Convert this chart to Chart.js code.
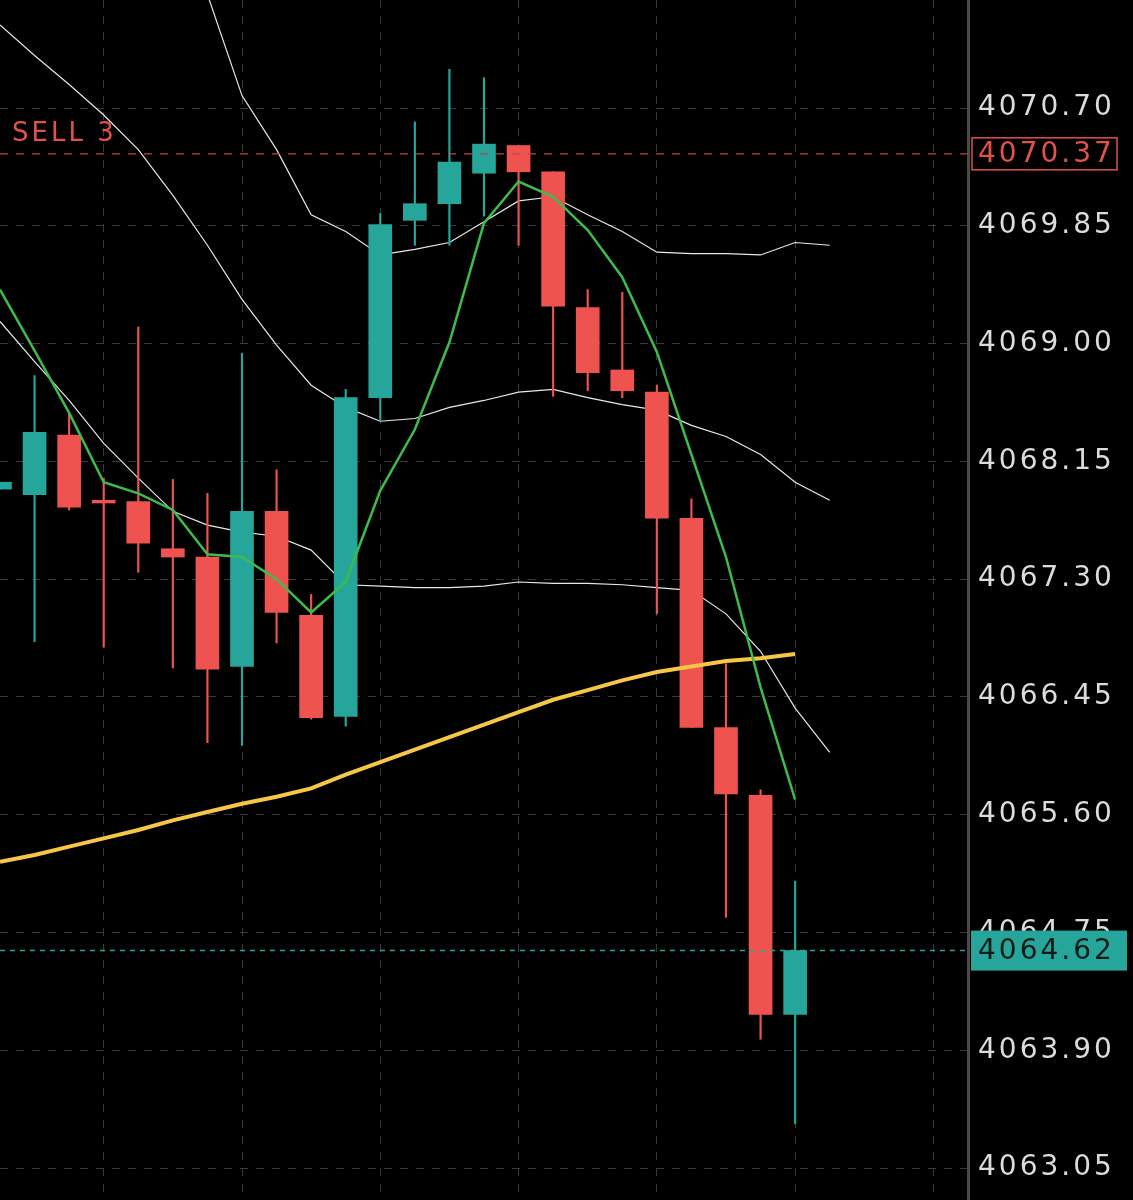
<!DOCTYPE html>
<html>
<head>
<meta charset="utf-8">
<script src="https://cdn.jsdelivr.net/npm/chart.js@4.4.0/dist/chart.umd.min.js"></script>
<style>
  html, body { margin: 0; padding: 0; background: #000; }
  #wrap { width: 1133px; height: 1200px; }
</style>
</head>
<body>
<div id="wrap"><canvas id="chart" width="1133" height="1200"></canvas></div>
<script>
// candles, index 0..23
const opens  = [4067.95, 4067.91, 4068.34, 4067.87, 4067.86, 4067.52, 4067.46, 4066.67, 4067.79, 4067.04, 4066.31, 4068.61, 4069.89, 4070.01, 4070.23, 4070.43, 4070.24, 4069.26, 4068.81, 4068.65, 4067.74, 4066.23, 4065.74, 4064.16];
const closes = [4068.00, 4068.36, 4067.82, 4067.85, 4067.56, 4067.46, 4066.65, 4067.79, 4067.06, 4066.30, 4068.61, 4069.86, 4070.01, 4070.31, 4070.44, 4070.24, 4069.27, 4068.79, 4068.66, 4067.74, 4066.23, 4065.75, 4064.16, 4064.62];
const highs  = [4068.00, 4068.77, 4068.49, 4068.03, 4069.12, 4068.02, 4067.92, 4068.93, 4068.09, 4067.19, 4068.67, 4069.94, 4070.60, 4070.98, 4070.92, 4070.43, 4070.24, 4069.39, 4069.37, 4068.70, 4067.88, 4066.69, 4065.78, 4065.12];
const lows   = [4067.95, 4066.85, 4067.80, 4066.81, 4067.35, 4066.66, 4066.12, 4066.10, 4066.84, 4066.29, 4066.24, 4068.44, 4069.71, 4069.71, 4069.92, 4069.71, 4068.62, 4068.66, 4068.61, 4067.05, 4066.23, 4064.86, 4063.98, 4063.37];

// indicator lines
const emaFast = [4069.39, 4068.95, 4068.50, 4068.00, 4067.92, 4067.80, 4067.48, 4067.46, 4067.30, 4067.06, 4067.28, 4067.94, 4068.38, 4069.01, 4069.87, 4070.17, 4070.06, 4069.82, 4069.48, 4068.94, 4068.20, 4067.46, 4066.52, 4065.71];
const bandUpper = [null, null, null, null, null, 4072.40, 4071.52, 4070.79, 4070.40, 4069.93, 4069.81, 4069.64, 4069.68, 4069.73, 4069.88, 4070.03, 4070.06, 4069.93, 4069.81, 4069.66, 4069.65, 4069.65, 4069.64, 4069.73, 4069.71];
const bandMiddle = [4071.30, 4071.08, 4070.87, 4070.65, 4070.40, 4070.07, 4069.71, 4069.32, 4068.99, 4068.70, 4068.54, 4068.44, 4068.46, 4068.54, 4068.59, 4068.65, 4068.67, 4068.61, 4068.56, 4068.52, 4068.41, 4068.33, 4068.20, 4068.00, 4067.87];
const bandLower = [4069.16, 4068.87, 4068.59, 4068.28, 4068.03, 4067.79, 4067.69, 4067.64, 4067.61, 4067.51, 4067.26, 4067.25, 4067.24, 4067.24, 4067.25, 4067.28, 4067.27, 4067.27, 4067.26, 4067.24, 4067.22, 4067.05, 4066.78, 4066.37, 4066.05];
const maSlow = [4065.26, 4065.31, 4065.37, 4065.43, 4065.49, 4065.56, 4065.62, 4065.68, 4065.73, 4065.79, 4065.89, 4065.98, 4066.07, 4066.16, 4066.25, 4066.34, 4066.43, 4066.50, 4066.57, 4066.63, 4066.67, 4066.71, 4066.73, 4066.76];

const yTicks = [4063.05, 4063.90, 4064.75, 4065.60, 4066.45, 4067.30, 4068.15, 4069.00, 4069.85, 4070.70, 4071.55];
const xGrid = [3, 7, 11, 15, 19, 23, 27];
const sellPrice = 4070.37;
const sellLabel = 'SELL 3';
const lastPrice = 4064.62;

const UP = '#26a69a', DOWN = '#ef5350';
const candleColor = opens.map((o, i) => closes[i] >= o ? UP : DOWN);
const asXY = arr => arr.map((v, i) => ({ x: i, y: v }));
const FONT = '28px "DejaVu Sans"';

const overlay = {
  id: 'overlay',
  afterDatasetsDraw(chart) {
    const { ctx, chartArea: a, scales: { y } } = chart;
    ctx.save();
    ctx.textBaseline = 'middle';
    ctx.letterSpacing = '3px';
    // axis labels
    ctx.font = FONT; ctx.fillStyle = '#dcdcdc';
    yTicks.forEach(v => ctx.fillText(v.toFixed(2), a.right + 10, y.getPixelForValue(v)));
    // sell order line
    let py = y.getPixelForValue(sellPrice);
    ctx.strokeStyle = '#c0443f'; ctx.lineWidth = 1.2; ctx.setLineDash([8, 8]);
    ctx.beginPath(); ctx.moveTo(a.left, py); ctx.lineTo(a.right, py); ctx.stroke();
    ctx.setLineDash([]);
    ctx.font = '26px "DejaVu Sans"'; ctx.fillStyle = '#e0524b';
    ctx.fillText(sellLabel, 12, py - 20);
    ctx.fillStyle = '#000'; ctx.fillRect(a.right + 4, py - 16, 145, 32);
    ctx.strokeStyle = '#e0524b'; ctx.lineWidth = 1.5; ctx.strokeRect(a.right + 4, py - 16, 145, 32);
    ctx.fillStyle = '#e0524b'; ctx.font = FONT;
    ctx.fillText(sellPrice.toFixed(2), a.right + 10, py + 1);
    // last price line
    py = y.getPixelForValue(lastPrice);
    ctx.strokeStyle = '#26a69a'; ctx.lineWidth = 1.5; ctx.setLineDash([5, 5]);
    ctx.beginPath(); ctx.moveTo(a.left, py); ctx.lineTo(a.right, py); ctx.stroke();
    ctx.setLineDash([]);
    ctx.fillStyle = '#26a69a'; ctx.fillRect(a.right + 3, py - 20, 156, 40);
    ctx.fillStyle = '#0b1a18'; ctx.font = FONT;
    ctx.fillText(lastPrice.toFixed(2), a.right + 10, py + 1);
    ctx.restore();
  }
};

new Chart(document.getElementById('chart').getContext('2d'), {
  type: 'bar',
  data: {
    datasets: [
      { type: 'line', data: asXY(bandUpper), borderColor: '#e8e8e8', borderWidth: 1.2, pointRadius: 0, order: 5 },
      { type: 'line', data: asXY(bandMiddle), borderColor: '#e8e8e8', borderWidth: 1.2, pointRadius: 0, order: 5 },
      { type: 'line', data: asXY(bandLower), borderColor: '#e8e8e8', borderWidth: 1.2, pointRadius: 0, order: 5 },
      { data: lows.map((l, i) => ({ x: i, y: [l, highs[i]] })), backgroundColor: candleColor,
        barThickness: 1.5, grouped: false, order: 4 },
      { data: opens.map((o, i) => ({ x: i, y: [o, closes[i] === o ? o + 0.02 : closes[i]] })), backgroundColor: candleColor,
        barThickness: 23, grouped: false, order: 3 },
      { type: 'line', data: asXY(maSlow), borderColor: '#f6c744', borderWidth: 4, pointRadius: 0, order: 2 },
      { type: 'line', data: asXY(emaFast), borderColor: '#3dbb4c', borderWidth: 2.5, pointRadius: 0, order: 1 }
    ]
  },
  options: {
    responsive: false,
    animation: false,
    devicePixelRatio: 1,
    layout: { padding: 0 },
    plugins: { legend: { display: false }, tooltip: { enabled: false } },
    scales: {
      x: {
        type: 'linear', min: 0, max: 28, offset: false,
        afterBuildTicks: s => { s.ticks = xGrid.map(v => ({ value: v })); },
        afterFit: s => { s.height = 0; },
        ticks: { display: false },
        grid: { color: '#3a3a3a', lineWidth: 1, drawTicks: false, offset: false },
        border: { display: false, dash: [8, 8] }
      },
      y: {
        position: 'right', min: 4062.82, max: 4071.48,
        afterBuildTicks: s => { s.ticks = yTicks.slice(0, -1).map(v => ({ value: v })); },
        afterFit: s => { s.width = 165; },
        ticks: { display: false },
        grid: { color: '#3a3a3a', lineWidth: 1, drawTicks: false },
        border: { display: true, color: '#4a4a4a', width: 3, dash: [8, 8] }
      }
    }
  },
  plugins: [overlay]
});
</script>
</body>
</html>
